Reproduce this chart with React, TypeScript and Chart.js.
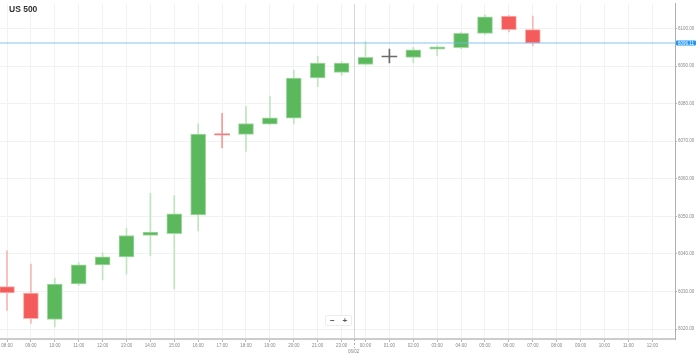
import React, { useEffect, useRef } from 'react';
import { Chart, registerables } from 'chart.js';
Chart.register(...registerables);

const chartTitle = 'US 500';
const timeLabels = ['08:00','09:00','10:00','11:00','12:00','13:00','14:00','15:00','16:00','17:00','18:00','19:00','20:00','21:00','23:00','00:00','01:00','02:00','03:00','04:00','05:00','06:00','07:00','08:00','09:00','10:00','11:00','12:00'];
const opens =  [6031.3, 6029.6, 6022.6, 6032.0, 6037.1, 6039.2, 6044.9, 6045.4, 6050.4, 6071.8, 6071.8, 6074.5, 6076.1, 6086.8, 6088.3, 6090.4, 6092.4, 6092.3, 6094.5, 6094.9, 6098.7, 6103.3, 6099.7];
const highs =  [6040.8, 6037.3, 6033.6, 6037.7, 6040.3, 6046.8, 6056.1, 6055.5, 6074.6, 6077.4, 6079.2, 6082.0, 6088.9, 6092.6, 6091.2, 6096.5, 6094.5, 6095.0, 6095.4, 6099.0, 6103.6, 6103.4, 6103.3];
const lows =   [6025.0, 6021.5, 6020.6, 6031.6, 6033.1, 6034.6, 6039.5, 6030.7, 6046.1, 6068.2, 6067.3, 6074.4, 6074.6, 6084.5, 6087.5, 6090.2, 6090.8, 6090.8, 6092.7, 6094.6, 6098.5, 6099.1, 6095.4];
const closes = [6029.6, 6022.8, 6032.0, 6037.1, 6039.2, 6044.9, 6045.8, 6050.7, 6071.9, 6071.7, 6074.7, 6076.2, 6086.8, 6090.8, 6090.8, 6092.3, 6092.4, 6094.3, 6095.1, 6098.7, 6103.1, 6099.7, 6096.11];
const yTickValues = [6020, 6030, 6040, 6050, 6060, 6070, 6080, 6090, 6100];
const currentPrice = 6096.11;
const dayBreakLabel = '06/02';
const dayBreakAfterIndex = 14; // separator between index 14 and 15
const xRange = [-0.293, 27.95];
const yRange = [6017.37, 6106.58];

const UP_FILL = '#5cb85c';
const UP_BORDER = '#a3d9a3';
const UP_WICK = '#bfe5bf';
const DOWN_FILL = '#f45b5b';
const DOWN_BORDER = '#ffb0b0';
const DOWN_WICK = '#f8b6b6';
const FLAT = '#6a6a6a';
const FONT = "Arial, 'Liberation Sans', sans-serif";

function dir(i: number) {
  if (closes[i] > opens[i]) return 'up';
  if (closes[i] < opens[i]) return 'down';
  return 'flat';
}

const overlayPlugin = {
  id: 'overlay',
  beforeDatasetsDraw(chart: any) {
    const { ctx, chartArea, scales } = chart;
    const x = scales.x.getPixelForValue(dayBreakAfterIndex + 0.5);
    ctx.save();
    ctx.strokeStyle = '#d6d6d6';
    ctx.lineWidth = 1;
    ctx.beginPath();
    ctx.moveTo(Math.round(x) + 0.5, chartArea.top);
    ctx.lineTo(Math.round(x) + 0.5, chartArea.bottom);
    ctx.stroke();
    ctx.setLineDash([2, 2]);
    ctx.strokeStyle = '#aaaaaa';
    ctx.beginPath();
    ctx.moveTo(Math.round(x) + 0.5, chartArea.bottom);
    ctx.lineTo(Math.round(x) + 0.5, chartArea.bottom + 9);
    ctx.stroke();
    ctx.setLineDash([]);
    ctx.fillStyle = '#888';
    ctx.font = `4.5px ${FONT}`;
    ctx.textAlign = 'center';
    ctx.textBaseline = 'middle';
    ctx.fillText(dayBreakLabel, x, chartArea.bottom + 13);
    ctx.restore();
  },
  afterDatasetsDraw(chart: any) {
    const { ctx, chartArea, scales } = chart;
    const y = scales.y.getPixelForValue(currentPrice);
    ctx.save();
    ctx.strokeStyle = 'rgba(110,185,240,0.55)';
    ctx.lineWidth = 1.6;
    ctx.beginPath();
    ctx.moveTo(chartArea.left, y);
    ctx.lineTo(chartArea.right, y);
    ctx.stroke();
    const bx = chartArea.right + 1;
    const bw = 20;
    const bh = 5;
    ctx.fillStyle = '#2196f3';
    ctx.beginPath();
    if ((ctx as any).roundRect) (ctx as any).roundRect(bx, y - bh / 2, bw, bh, 1);
    else ctx.rect(bx, y - bh / 2, bw, bh);
    ctx.fill();
    ctx.fillStyle = '#ffffff';
    ctx.font = `4.5px ${FONT}`;
    ctx.textAlign = 'left';
    ctx.textBaseline = 'middle';
    ctx.fillText(currentPrice.toFixed(2), bx + 2, y + 0.3);
    ctx.restore();
  },
};

export default function App() {
  const ref = useRef<HTMLCanvasElement | null>(null);
  useEffect(() => {
    if (!ref.current) return;
    const idx = opens.map((_, i) => i);
    const chart = new Chart(ref.current, {
      type: 'bar',
      data: {
        datasets: [
          {
            label: 'body',
            data: idx.map((i) => ({ x: i, y: [opens[i], closes[i]] })) as any,
            grouped: false,
            barThickness: 15,
            minBarLength: 1,
            borderSkipped: false,
            backgroundColor: idx.map((i) => {
              const d = dir(i);
              if (Math.abs(opens[i] - closes[i]) < 0.3) return d === 'down' ? '#f08080' : FLAT;
              return d === 'up' ? UP_FILL : DOWN_FILL;
            }),
            borderColor: idx.map((i) => (dir(i) === 'up' ? UP_BORDER : DOWN_BORDER)),
            borderWidth: idx.map((i) => (Math.abs(opens[i] - closes[i]) < 0.3 ? 0 : 1)),
          } as any,
          {
            label: 'wick',
            data: idx.map((i) => ({ x: i, y: [lows[i], highs[i]] })) as any,
            grouped: false,
            barThickness: 1,
            borderWidth: 0,
            backgroundColor: idx.map((i) => {
              if (Math.abs(opens[i] - closes[i]) < 0.3) return dir(i) === 'down' ? '#f49a9a' : FLAT;
              return dir(i) === 'up' ? UP_WICK : DOWN_WICK;
            }),
          } as any,
        ],
      },
      options: {
        animation: false,
        responsive: false,
        devicePixelRatio: 1,
        layout: { padding: 0 },
        plugins: { legend: { display: false }, tooltip: { enabled: false }, title: { display: false } },
        scales: {
          x: {
            type: 'linear',
            min: xRange[0],
            max: xRange[1],
            offset: false,
            bounds: 'data',
            grid: { color: '#f2f2f2', tickColor: '#b5b5b5', tickLength: 3, offset: false, drawOnChartArea: true },
            border: { display: true, color: '#cccccc', width: 2 },
            afterBuildTicks: (scale: any) => {
              scale.ticks = timeLabels.map((_, i) => ({ value: i }));
            },
            afterFit: (scale: any) => {
              scale.height = 17;
            },
            ticks: {
              autoSkip: false,
              maxRotation: 0,
              padding: 1,
              color: '#888',
              font: { size: 4.5, family: FONT },
              callback: (v: any) => timeLabels[Math.round(Number(v))] ?? '',
            },
          } as any,
          y: {
            type: 'linear',
            position: 'right',
            min: yRange[0],
            max: yRange[1],
            bounds: 'data',
            grid: { color: '#f2f2f2', tickColor: '#b5b5b5', tickLength: 2 },
            border: { display: true, color: '#b0b0b0', width: 1 },
            afterBuildTicks: (scale: any) => {
              scale.ticks = yTickValues.map((v) => ({ value: v }));
            },
            afterFit: (scale: any) => {
              scale.width = 24;
            },
            ticks: {
              padding: 1,
              color: '#888',
              font: { size: 4.5, family: FONT },
              callback: (v: any) => Number(v).toFixed(2),
            },
          } as any,
        },
      },
      plugins: [overlayPlugin],
    });
    return () => chart.destroy();
  }, []);

  return (
    <div style={{ position: 'fixed', left: 0, top: 0, width: 699, height: 356, background: '#fff', overflow: 'hidden' }}>
      <canvas ref={ref} width={699} height={356} style={{ position: 'absolute', left: 0, top: 0, width: 699, height: 356 }} />
      <div
        style={{
          position: 'absolute',
          left: 9,
          top: 4,
          fontFamily: FONT,
          fontWeight: 'bold',
          fontSize: 8.5,
          color: '#333',
          lineHeight: '11px',
          whiteSpace: 'nowrap',
        }}
      >
        {chartTitle}
      </div>
      <div
        style={{
          position: 'absolute',
          left: 325,
          top: 315,
          width: 25,
          height: 9,
          background: '#fff',
          border: '1px solid #ececec',
          borderRadius: 2,
          display: 'flex',
          justifyContent: 'space-around',
          alignItems: 'center',
          fontFamily: FONT,
          fontWeight: 'bold',
          fontSize: 8,
          color: '#555',
          lineHeight: '9px',
        }}
      >
        <span>−</span>
        <span>+</span>
      </div>
    </div>
  );
}
